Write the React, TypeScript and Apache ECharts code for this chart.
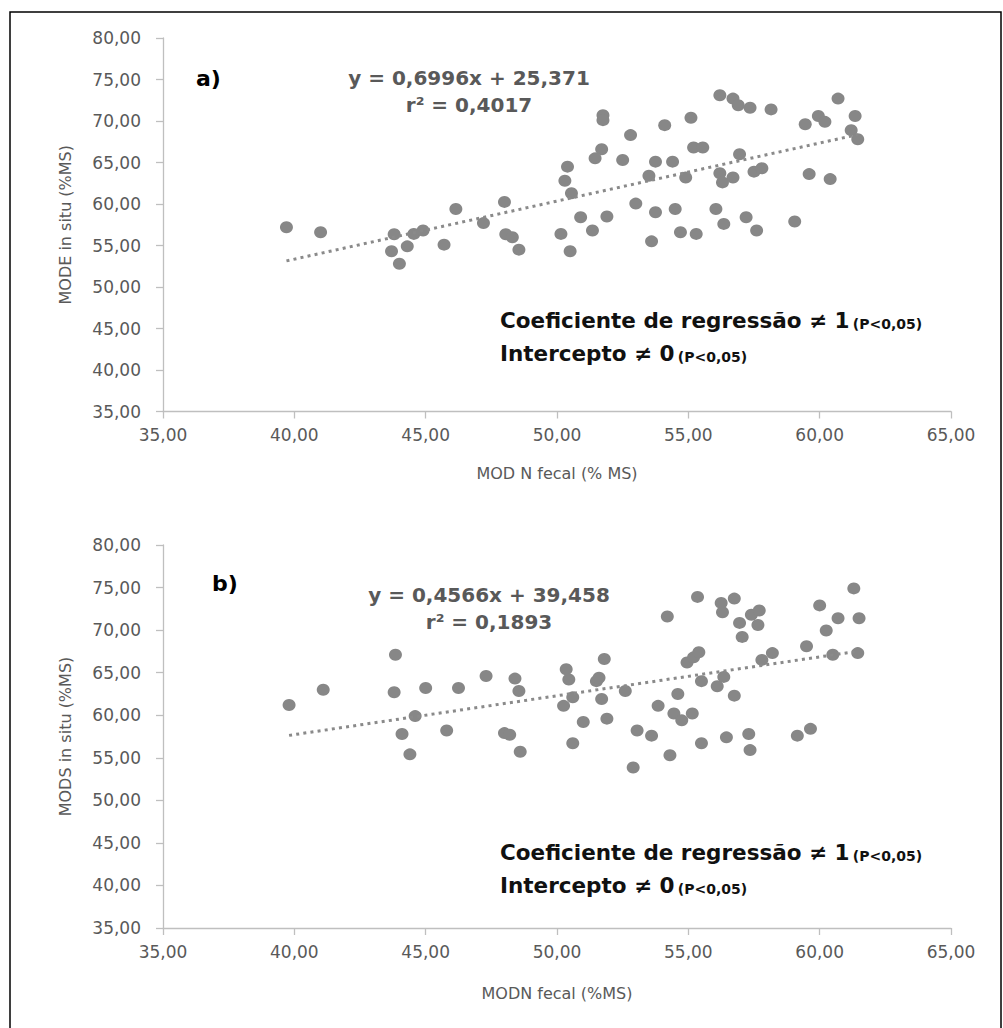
import React, { useEffect, useRef } from "react";
import * as echarts from "echarts";

// Panel a) MOD N fecal (x) vs MODE in situ (y)
const aX = [39.7, 41.0, 43.8, 43.7, 44.0, 44.3, 44.55, 44.9, 45.7, 46.15, 47.2, 48.0, 48.05, 48.3, 48.55,
  56.2, 56.7, 56.9, 57.35, 58.15, 51.75, 51.75, 55.1, 54.1, 52.8, 55.2, 55.55, 51.7, 51.45, 52.5,
  53.75, 54.4, 50.4, 50.3, 50.55, 53.5, 54.9, 56.95, 56.2, 56.7, 56.3, 57.5, 57.8, 59.6, 60.4,
  59.45, 59.95, 60.2, 60.7, 61.35, 61.2, 61.45, 53.0, 53.75, 54.5, 56.05, 50.9, 51.9, 50.15, 51.35,
  50.5, 53.6, 54.7, 55.3, 56.35, 57.2, 57.6, 59.05];
const aY = [57.2, 56.6, 56.35, 54.3, 52.8, 54.9, 56.4, 56.8, 55.1, 59.4, 57.7, 60.25, 56.35, 56.0, 54.5,
  73.1, 72.7, 71.9, 71.6, 71.4, 70.7, 70.1, 70.4, 69.5, 68.3, 66.8, 66.8, 66.6, 65.5, 65.3,
  65.1, 65.1, 64.5, 62.8, 61.3, 63.4, 63.2, 66.0, 63.7, 63.2, 62.6, 63.9, 64.3, 63.6, 63.0,
  69.6, 70.6, 69.9, 72.7, 70.6, 68.9, 67.8, 60.05, 59.0, 59.4, 59.4, 58.4, 58.5, 56.4, 56.8,
  54.3, 55.5, 56.6, 56.4, 57.6, 58.4, 56.8, 57.9];

// Panel b) MODN fecal (x) vs MODS in situ (y)
const bX = [39.8, 41.1, 43.85, 43.8, 44.6, 44.1, 44.4, 45.0, 45.8, 46.25, 47.3, 48.4, 48.55, 48.0, 48.2,
  48.6, 50.35, 50.45, 50.6, 50.25, 51.0, 50.6, 51.5, 51.6, 51.8, 51.7, 51.9, 52.6, 54.2, 55.35,
  56.25, 56.3, 56.75, 56.95, 57.05, 57.4, 57.7, 57.65, 54.95, 55.2, 55.4, 55.5, 56.1, 56.35, 56.75,
  57.8, 58.2, 54.6, 53.85, 54.45, 54.75, 55.15, 53.05, 53.6, 54.3, 52.9, 55.5, 56.45, 57.3, 57.35,
  59.15, 59.65, 59.5, 60.0, 60.7, 60.25, 60.5, 61.3, 61.5, 61.45];
const bY = [61.2, 63.0, 67.1, 62.7, 59.9, 57.8, 55.4, 63.2, 58.2, 63.2, 64.6, 64.3, 62.85, 57.9, 57.7,
  55.7, 65.4, 64.2, 62.1, 61.1, 59.2, 56.7, 64.0, 64.4, 66.6, 61.9, 59.6, 62.85, 71.6, 73.9,
  73.2, 72.1, 73.7, 70.85, 69.2, 71.8, 72.3, 70.6, 66.2, 66.8, 67.4, 64.0, 63.4, 64.5, 62.3,
  66.5, 67.3, 62.5, 61.1, 60.2, 59.4, 60.2, 58.2, 57.6, 55.3, 53.85, 56.7, 57.4, 57.8, 55.9,
  57.6, 58.4, 68.1, 72.9, 71.4, 69.95, 67.1, 74.9, 71.4, 67.3];

// Regression equations shown on the chart
const aSlope = 0.6996, aIntercept = 25.371, aR2 = "0,4017";
const bSlope = 0.4566, bIntercept = 39.458, bR2 = "0,1893";

const axisMin = { x: 35, y: 35 };
const axisMax = { x: 65, y: 80 };
const tickStep = 5;

const GRAY_TEXT = "#595959";
const AXIS_COLOR = "#bfbfbf";
const DOT_COLOR = "#878787";
const FONT = "DejaVu Sans";

function pairs(xs: number[], ys: number[]) {
  return xs.map((x, i) => [x, ys[i]]);
}
function trend(xs: number[], slope: number, intercept: number) {
  const lo = Math.min(...xs), hi = Math.max(...xs);
  return [[lo, slope * lo + intercept], [hi, slope * hi + intercept]];
}
const fmt = (v: number) => v.toFixed(2).replace(".", ",");

function xAxisCfg(gridIndex: number, name: string, nameGap: number) {
  return {
    type: "value", gridIndex, min: axisMin.x, max: axisMax.x, interval: tickStep,
    name, nameLocation: "middle", nameGap,
    nameTextStyle: { color: GRAY_TEXT, fontFamily: FONT, fontSize: 16 },
    axisLine: { show: true, lineStyle: { color: AXIS_COLOR, width: 1.3 } },
    axisTick: { show: true, length: 7, lineStyle: { color: AXIS_COLOR, width: 1.3 } },
    splitLine: { show: false },
    axisLabel: { formatter: fmt, color: GRAY_TEXT, fontFamily: FONT, fontSize: 17, margin: 15 },
  };
}
function yAxisCfg(gridIndex: number, name: string) {
  return {
    type: "value", gridIndex, min: axisMin.y, max: axisMax.y, interval: tickStep,
    name, nameLocation: "middle", nameGap: 90,
    nameTextStyle: { color: GRAY_TEXT, fontFamily: FONT, fontSize: 16 },
    axisLine: { show: true, lineStyle: { color: AXIS_COLOR, width: 1.3 } },
    axisTick: { show: true, length: 7, lineStyle: { color: AXIS_COLOR, width: 1.3 } },
    splitLine: { show: false },
    axisLabel: { formatter: fmt, color: GRAY_TEXT, fontFamily: FONT, fontSize: 17, margin: 22 },
  };
}

function scatter(idx: number, data: number[][]) {
  return {
    type: "scatter", xAxisIndex: idx, yAxisIndex: idx, data,
    symbol: "circle", symbolSize: [13, 12],
    itemStyle: { color: DOT_COLOR, opacity: 1 }, z: 2,
  };
}
function trendSeries(idx: number, data: number[][]) {
  return {
    type: "line", xAxisIndex: idx, yAxisIndex: idx, data, symbol: "none",
    lineStyle: { color: "#8a8a8a", width: 3, type: [3, 4.2] }, z: 3, silent: true,
  };
}

function eqText(cx: number, y1: number, slope: number, intercept: number, r2: string) {
  const s = (n: number, d: number) => n.toFixed(d).replace(".", ",");
  return [
    { type: "text", x: cx, y: y1, style: { text: `y = ${s(slope, 4)}x + ${s(intercept, 3)}`, fill: GRAY_TEXT,
      font: `bold 20px "${FONT}"`, align: "center", verticalAlign: "middle" } },
    { type: "text", x: cx, y: y1 + 27, style: { text: `r² = ${r2}`, fill: GRAY_TEXT,
      font: `bold 20px "${FONT}"`, align: "center", verticalAlign: "middle" } },
  ];
}
function noteText(x: number, y1: number) {
  const rich = {
    m: { fontFamily: FONT, fontWeight: "bold", fontSize: 21.5, fill: "#111", color: "#111" },
    p: { fontFamily: FONT, fontWeight: "bold", fontSize: 14, padding: [7, 0, 0, 0], fill: "#111", color: "#111" },
  };
  return [
    { type: "text", x, y: y1, style: { text: "{m|Coeficiente de regressão ≠ 1} {p|(P<0,05)}", rich,
      verticalAlign: "middle", fill: "#111" } },
    { type: "text", x, y: y1 + 33, style: { text: "{m|Intercepto ≠ 0} {p|(P<0,05)}", rich,
      verticalAlign: "middle", fill: "#111" } },
  ];
}

export default function App() {
  const ref = useRef<HTMLDivElement>(null);
  useEffect(() => {
    if (!ref.current) return;
    const chart = echarts.init(ref.current, null, { renderer: "svg" });
    chart.setOption({
      animation: false,
      backgroundColor: "#ffffff",
      grid: [
        { left: 163, top: 38, width: 788, height: 373.5 },
        { left: 163, top: 545, width: 788, height: 383 },
      ],
      xAxis: [xAxisCfg(0, "MOD N fecal (% MS)", 54), xAxisCfg(1, "MODN fecal (%MS)", 57)],
      yAxis: [yAxisCfg(0, "MODE in situ (%MS)"), yAxisCfg(1, "MODS in situ (%MS)")],
      series: [
        scatter(0, pairs(aX, aY)),
        trendSeries(0, trend(aX, aSlope, aIntercept)),
        scatter(1, pairs(bX, bY)),
        trendSeries(1, trend(bX, bSlope, bIntercept)),
      ],
      graphic: [
        { type: "rect", shape: { x: 10, y: 12, width: 991, height: 1040 },
          style: { fill: "none", stroke: "#000", lineWidth: 1.5 }, silent: true },
        { type: "text", x: 196, y: 78, style: { text: "a)", fill: "#000", font: `bold 22px "${FONT}"`, verticalAlign: "middle" } },
        { type: "text", x: 212, y: 583, style: { text: "b)", fill: "#000", font: `bold 22px "${FONT}"`, verticalAlign: "middle" } },
        ...eqText(469, 78, aSlope, aIntercept, aR2),
        ...eqText(489, 595, bSlope, bIntercept, bR2),
        ...noteText(500, 320),
        ...noteText(500, 852),
      ],
    });
    return () => chart.dispose();
  }, []);
  return <div ref={ref} style={{ position: "fixed", left: 0, top: 0, width: 1003, height: 1028 }} />;
}
